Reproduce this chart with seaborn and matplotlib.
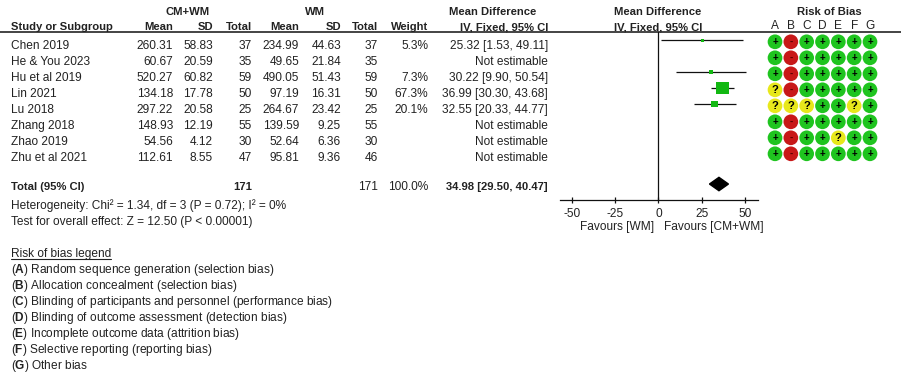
import matplotlib
matplotlib.use('Agg')
import matplotlib.pyplot as plt
import numpy as np
import pandas as pd
import seaborn as sns

# study data
studies = ['Chen 2019', 'He & You 2023', 'Hu et al 2019', 'Lin 2021', 'Lu 2018',
           'Zhang 2018', 'Zhao 2019', 'Zhu et al 2021']
cm_mean = [260.31, 60.67, 520.27, 134.18, 297.22, 148.93, 54.56, 112.61]
cm_sd = [58.83, 20.59, 60.82, 17.78, 20.58, 12.19, 4.12, 8.55]
cm_n = [37, 35, 59, 50, 25, 55, 30, 47]
wm_mean = [234.99, 49.65, 490.05, 97.19, 264.67, 139.59, 52.64, 95.81]
wm_sd = [44.63, 21.84, 51.43, 16.31, 23.42, 9.25, 6.36, 9.36]
wm_n = [37, 35, 59, 50, 25, 55, 30, 46]
weight = [5.3, None, 7.3, 67.3, 20.1, None, None, None]
md = [25.32, None, 30.22, 36.99, 32.55, None, None, None]
ci_low = [1.53, None, 9.90, 30.30, 20.33, None, None, None]
ci_high = [49.11, None, 50.54, 43.68, 44.77, None, None, None]

total_cm = 171
total_wm = 171
total_weight = 100.0
total_md = 34.98
total_low = 29.50
total_high = 40.47
het_text = 'Heterogeneity: Chi² = 1.34, df = 3 (P = 0.72); I² = 0%'
effect_text = 'Test for overall effect: Z = 12.50 (P < 0.00001)'
x_ticks = [-50, -25, 0, 25, 50]

# risk of bias judgements per domain (rows follow studies)
bias_domains = ['A', 'B', 'C', 'D', 'E', 'F', 'G']
bias_A = ['+', '+', '+', '?', '?', '+', '+', '+']
bias_B = ['-', '-', '-', '-', '?', '-', '-', '-']
bias_C = ['+', '+', '+', '+', '?', '+', '+', '+']
bias_D = ['+', '+', '+', '+', '+', '+', '+', '+']
bias_E = ['+', '+', '+', '+', '+', '+', '?', '+']
bias_F = ['+', '+', '+', '+', '?', '+', '+', '+']
bias_G = ['+', '+', '+', '+', '+', '+', '+', '+']
bias_legend = ['Random sequence generation (selection bias)',
               'Allocation concealment (selection bias)',
               'Blinding of participants and personnel (performance bias)',
               'Blinding of outcome assessment (detection bias)',
               'Incomplete outcome data (attrition bias)',
               'Selective reporting (reporting bias)',
               'Other bias']

# ---- style ----
sns.set_theme(style='white')
plt.rcParams['font.family'] = ['Liberation Sans', 'DejaVu Sans']
plt.rcParams['mathtext.fontset'] = 'custom'
plt.rcParams['mathtext.rm'] = 'Liberation Sans'
plt.rcParams['mathtext.bf'] = 'Liberation Sans:bold'
FS = 8.6      # regular text
FSB = 8.1     # bold headers
TXT = '#222222'
SQ_GREEN = '#12b812'
judge_colors = {'+': '#1fc41f', '-': '#c81818', '?': '#e8e81c'}

W, H = 901, 384
fig = plt.figure(figsize=(W / 100, H / 100), dpi=100)
fig.patch.set_facecolor('white')

# background axes in pixel units for the table text
bg = fig.add_axes([0, 0, 1, 1])
bg.set_xlim(0, W)
bg.set_ylim(H, 0)
bg.axis('off')


def put(x, y, s, ha='left', bold=False, **kw):
    return bg.text(x, y, s, ha=ha, va='baseline', fontsize=FSB if bold else FS,
                   color=TXT, fontweight='bold' if bold else 'normal', **kw)


def fig_rect(x0, y0, x1, y1):
    return [x0 / W, 1 - y1 / H, (x1 - x0) / W, (y1 - y0) / H]


# column layout (right edges in px)
col_name = 11
col_cm_mean, col_cm_sd, col_cm_n = 173, 213, 252
col_wm_mean, col_wm_sd, col_wm_n = 299, 341, 378
col_weight = 428
col_md = 548
row0, row_step = 48.7, 16

# headers
put(188, 15, 'CM+WM', ha='center', bold=True)
put(315, 15, 'WM', ha='center', bold=True)
put(536, 15, 'Mean Difference', ha='right', bold=True)
put(658, 15, 'Mean Difference', ha='center', bold=True)
put(829, 15, 'Risk of Bias', ha='center', bold=True)
put(col_name, 30, 'Study or Subgroup', bold=True)
for x, s in [(col_cm_mean, 'Mean'), (col_cm_sd, 'SD'), (col_cm_n, 'Total'),
             (col_wm_mean, 'Mean'), (col_wm_sd, 'SD'), (col_wm_n, 'Total'),
             (col_weight, 'Weight'), (col_md, 'IV, Fixed, 95% CI')]:
    put(x, 30, s, ha='right', bold=True)
put(658, 30, 'IV, Fixed, 95% CI', ha='center', bold=True)
bg.plot([0, W], [32.3, 32.3], color='#111111', lw=1.1)

# study rows
for i, name in enumerate(studies):
    y = row0 + row_step * i
    put(col_name, y, name)
    put(col_cm_mean, y, f'{cm_mean[i]:.2f}', ha='right')
    put(col_cm_sd, y, f'{cm_sd[i]:.2f}', ha='right')
    put(col_cm_n, y, f'{cm_n[i]}', ha='right')
    put(col_wm_mean, y, f'{wm_mean[i]:.2f}', ha='right')
    put(col_wm_sd, y, f'{wm_sd[i]:.2f}', ha='right')
    put(col_wm_n, y, f'{wm_n[i]}', ha='right')
    if weight[i] is not None:
        put(col_weight, y, f'{weight[i]:.1f}%', ha='right')
        put(col_md, y, f'{md[i]:.2f} [{ci_low[i]:.2f}, {ci_high[i]:.2f}]', ha='right')
    else:
        put(col_md, y, 'Not estimable', ha='right')

# total row and summary text
yt = 190
put(col_name, yt, 'Total (95% CI)', bold=True)
put(col_cm_n, yt, f'{total_cm}', ha='right', bold=True)
put(col_wm_n, yt, f'{total_wm}', ha='right')
put(col_weight, yt, f'{total_weight:.1f}%', ha='right')
put(col_md, yt, f'{total_md:.2f} [{total_low:.2f}, {total_high:.2f}]', ha='right', bold=True)
put(col_name, 209, het_text)
put(col_name, 225, effect_text)

# risk of bias legend
leg_title = put(col_name, 257, 'Risk of bias legend')
for k, (d, s) in enumerate(zip(bias_domains, bias_legend)):
    put(col_name, 273 + 16 * k, rf'($\bf{{{d}}}$) {s}')

fig.canvas.draw()
bb = leg_title.get_window_extent().transformed(bg.transData.inverted())
bg.plot([bb.x0, bb.x1], [259, 259], color=TXT, lw=0.8)

# ---- forest plot axes ----
ax = fig.add_axes(fig_rect(560, 32.3, 758.3, 200))
ax.patch.set_alpha(0)
ax.set_xlim(-56.8, 57.7)
ax.set_ylim(10, -0.5)

est = pd.DataFrame({'row': np.arange(len(studies)), 'md': md, 'lo': ci_low,
                    'hi': ci_high, 'weight': weight}).dropna()
ax.hlines(est['row'], est['lo'], est['hi'], color='#111111', lw=0.9)
sns.scatterplot(data=est, x='md', y='row', size='weight', sizes=(4.7, 79),
                size_norm=(est['weight'].min(), est['weight'].max()),
                marker='s', color=SQ_GREEN, linewidth=0, legend=False,
                ax=ax, zorder=3)
ax.axvline(0, color='#111111', lw=0.9)
ax.fill([total_low, total_md, total_high, total_md], [9, 9 - 0.42, 9, 9 + 0.42],
        color='black', zorder=3)

for side in ['top', 'right', 'left']:
    ax.spines[side].set_visible(False)
ax.spines['bottom'].set_color('#111111')
ax.spines['bottom'].set_linewidth(0.9)
ax.set_yticks([])
ax.set_xticks(x_ticks)
ax.set_xticklabels([str(t) for t in x_ticks])
ax.tick_params(axis='x', direction='inout', length=5, width=0.9, color='#111111',
               pad=3.5, labelsize=FS, labelcolor=TXT, bottom=True)
ax.set_xlabel('')
ax.set_ylabel('')
put(654, 230, 'Favours [WM]', ha='right')
put(664, 230, 'Favours [CM+WM]')

# ---- risk of bias axes ----
rob = fig.add_axes(fig_rect(767.1, 33.8, 877.9, 201.8))
rob.patch.set_alpha(0)
rob.set_xlim(-0.5, 6.5)
rob.set_ylim(10, -0.5)
bias_cols = [bias_A, bias_B, bias_C, bias_D, bias_E, bias_F, bias_G]
rob_df = pd.DataFrame([{'col': c, 'row': r, 'judge': j}
                       for c, vals in enumerate(bias_cols)
                       for r, j in enumerate(vals)])
sns.scatterplot(data=rob_df, x='col', y='row', hue='judge', palette=judge_colors,
                s=112, linewidth=0, legend=False, ax=rob, zorder=2)
sym_style = {'+': dict(fontsize=7, color='black'),
             '-': dict(fontsize=7, color='#5a0000'),
             '?': dict(fontsize=8, color='black')}
for _, r in rob_df.iterrows():
    rob.text(r['col'], r['row'] + 0.03, r['judge'], ha='center', va='center',
             fontweight='bold', zorder=3, **sym_style[r['judge']])
for s in rob.spines.values():
    s.set_visible(False)
rob.set_yticks([])
rob.set_xticks(range(len(bias_domains)))
rob.set_xticklabels(bias_domains)
rob.xaxis.tick_top()
rob.tick_params(axis='x', length=0, pad=1, labelsize=FS, labelcolor=TXT)
rob.set_xlabel('')
rob.set_ylabel('')

fig.savefig('out.png', dpi=100)
